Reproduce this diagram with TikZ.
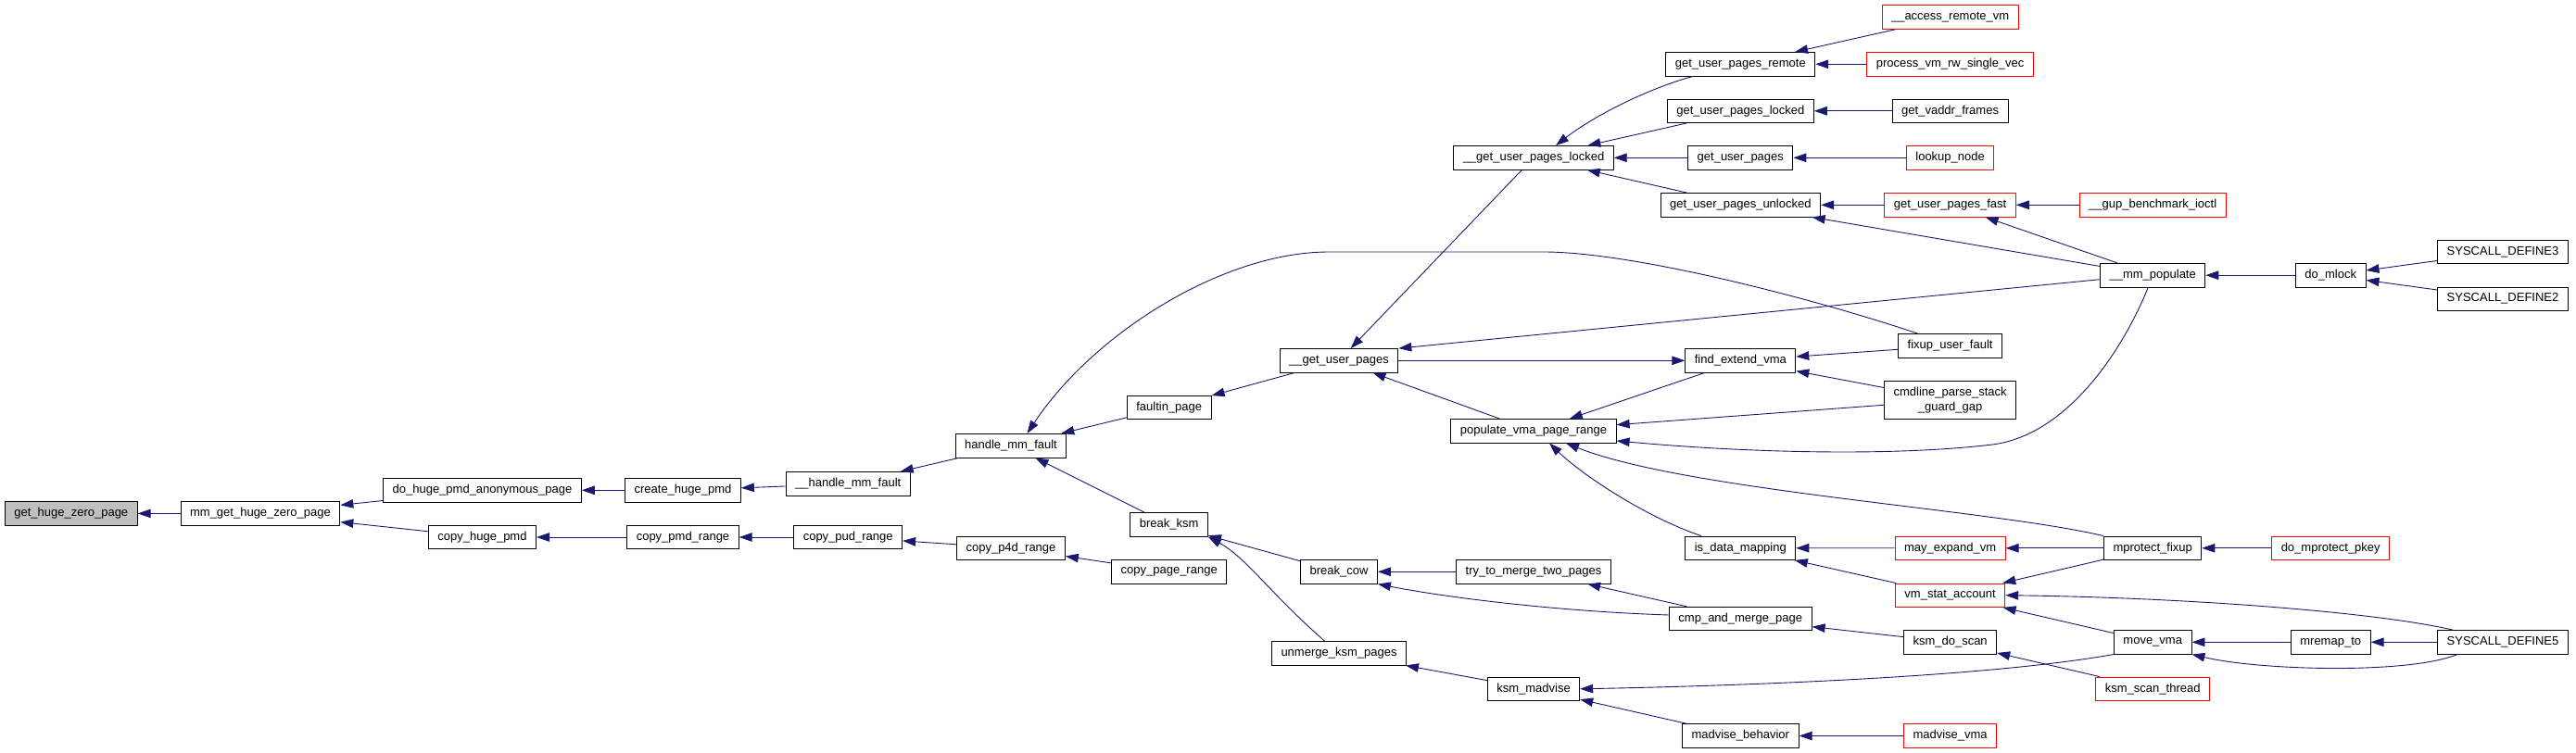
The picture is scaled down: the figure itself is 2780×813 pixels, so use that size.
\documentclass[tikz,border=0pt]{standalone}
\usepackage{fontspec}
\setmainfont{Liberation Sans}
\usepackage{xcolor}
\usetikzlibrary{arrows.meta}
\definecolor{edgeblue}{HTML}{191970}

\begin{document}
\begin{tikzpicture}[
    x=1pt, y=-1pt,
    font=\fontsize{13}{15.7}\selectfont,
    fn/.style={draw=black, line width=0.9pt, fill=white, minimum height=25.5pt, inner xsep=10pt, inner ysep=0pt, align=center},
    root/.style={fn, fill=black!25},
    cut/.style={fn, draw=red},
    edge/.style={{Triangle[length=14pt,width=9.5pt]}-, draw=edgeblue, line width=0.9pt}
  ]
    \useasboundingbox (0,0) rectangle (2780,813);

    \node[root] (hugezero) at (76.8,554.4) {get\_huge\_zero\_page};
    \node[fn] (mmhugezero) at (281,554.4) {mm\_get\_huge\_zero\_page};
    \node[fn] (dohugepmd) at (520.5,529.3) {do\_huge\_pmd\_anonymous\_page};
    \node[fn] (copyhugepmd) at (520.5,580) {copy\_huge\_pmd};
    \node[fn] (createpmd) at (737,529.3) {create\_huge\_pmd};
    \node[fn] (copypmd) at (737,580) {copy\_pmd\_range};
    \node[fn] (hmfault) at (915.2,522.3) {\_\_handle\_mm\_fault};
    \node[fn] (copypud) at (915.2,580) {copy\_pud\_range};
    \node[fn] (handlefault) at (1091,481.2) {handle\_mm\_fault};
    \node[fn] (copyp4d) at (1091,591.7) {copy\_p4d\_range};
    \node[fn] (faultin) at (1261.7,439.7) {faultin\_page};
    \node[fn] (breakksm) at (1261.7,566.5) {break\_ksm};
    \node[fn] (copypage) at (1261.7,617.2) {copy\_page\_range};

    \node[fn] (gupages) at (1445,389.3) {\_\_get\_user\_pages};
    \node[fn] (breakcow) at (1445,617.3) {break\_cow};
    \node[fn] (unmerge) at (1445,705.3) {unmerge\_ksm\_pages};
    \node[fn] (gupl) at (1655,170.3) {\_\_get\_user\_pages\_locked};
    \node[fn] (populate) at (1655,465.3) {populate\_vma\_page\_range};
    \node[fn] (trymerge) at (1655,617.3) {try\_to\_merge\_two\_pages};
    \node[fn] (ksmmadvise) at (1655,743.8) {ksm\_madvise};

    \node[fn] (gupremote) at (1878.3,69.3) {get\_user\_pages\_remote};
    \node[fn] (guplocked) at (1878.3,119.8) {get\_user\_pages\_locked};
    \node[fn] (gup) at (1878.3,170.3) {get\_user\_pages};
    \node[fn] (gupunlocked) at (1878.3,221.3) {get\_user\_pages\_unlocked};
    \node[fn] (findvma) at (1878.3,389.3) {find\_extend\_vma};
    \node[fn] (isdata) at (1878.3,591.7) {is\_data\_mapping};
    \node[fn] (cmpmerge) at (1878.3,668) {cmp\_and\_merge\_page};
    \node[fn] (madvbehav) at (1878.3,794.5) {madvise\_behavior};

    \node[cut] (accessvm) at (2104.6,18.5) {\_\_access\_remote\_vm};
    \node[cut] (processvm) at (2104.6,69.3) {process\_vm\_rw\_single\_vec};
    \node[fn] (vaddr) at (2104.6,119.8) {get\_vaddr\_frames};
    \node[cut] (lookup) at (2104.6,170.3) {lookup\_node};
    \node[cut] (gupfast) at (2104.6,221.3) {get\_user\_pages\_fast};
    \node[fn] (fixup) at (2104.6,373.3) {fixup\_user\_fault};
    \node[fn, minimum height=40.6pt] (cmdline) at (2104.6,432) {cmdline\_parse\_stack\\\_guard\_gap};
    \node[cut] (mayexpand) at (2104.6,591.8) {may\_expand\_vm};
    \node[cut] (vmstat) at (2104.6,642.7) {vm\_stat\_account};
    \node[fn] (ksmscan) at (2104.6,693.3) {ksm\_do\_scan};
    \node[cut] (madvvma) at (2104.6,794.5) {madvise\_vma};

    \node[cut] (gupbench) at (2323.2,221.3) {\_\_gup\_benchmark\_ioctl};
    \node[fn] (mmpopulate) at (2323.2,297.2) {\_\_mm\_populate};
    \node[fn] (mprotect) at (2323.2,591.8) {mprotect\_fixup};
    \node[fn] (movevma) at (2323.2,693.3) {move\_vma};
    \node[cut] (ksmthread) at (2323.2,743.8) {ksm\_scan\_thread};

    \node[fn] (mlock) at (2515.2,297.2) {do\_mlock};
    \node[cut] (mprotectpkey) at (2515.2,591.8) {do\_mprotect\_pkey};
    \node[fn] (mremap) at (2515.2,693.3) {mremap\_to};
    \node[fn] (sys3) at (2701,271.8) {SYSCALL\_DEFINE3};
    \node[fn] (sys2) at (2701,322.7) {SYSCALL\_DEFINE2};
    \node[fn] (sys5) at (2701,693.3) {SYSCALL\_DEFINE5};

    \foreach \a/\b in {hugezero/mmhugezero, mmhugezero/dohugepmd, mmhugezero/copyhugepmd,
        dohugepmd/createpmd, copyhugepmd/copypmd, createpmd/hmfault, copypmd/copypud,
        hmfault/handlefault, copypud/copyp4d, copyp4d/copypage, handlefault/faultin,
        handlefault/breakksm, faultin/gupages, breakksm/breakcow, gupages/gupl,
        gupages/populate, findvma/gupages, gupl/guplocked, gupl/gup, gupl/gupunlocked,
        gupremote/accessvm, gupremote/processvm, guplocked/vaddr, gup/lookup,
        gupunlocked/gupfast, gupunlocked/mmpopulate, gupfast/gupbench, gupfast/mmpopulate,
        mmpopulate/mlock, mlock/sys3, mlock/sys2, findvma/fixup, findvma/cmdline,
        populate/findvma, populate/cmdline, isdata/mayexpand, isdata/vmstat,
        mayexpand/mprotect, vmstat/mprotect, vmstat/movevma, mprotect/mprotectpkey,
        movevma/mremap, mremap/sys5, cmpmerge/ksmscan, ksmscan/ksmthread,
        breakcow/trymerge, trymerge/cmpmerge, unmerge/ksmmadvise, ksmmadvise/madvbehav,
        madvbehav/madvvma} {
      \draw[edge] (\a) -- (\b);
    }

    \draw[edge] ([xshift=17.5pt]handlefault.north) .. controls (1180,360) and (1320,272) .. (1434,272)
      -- (1666,272) .. controls (1760,272) and (1950,320) .. ([xshift=-35pt]fixup.north);
    \draw[edge] ([xshift=24pt]gupl.north) .. controls (1720,125) and (1780,95) .. ([xshift=-51.5pt]gupremote.south);
    \draw[edge] (breakksm.south east) .. controls (1345,602) and (1370,640) .. ([xshift=-15.5pt]unmerge.north);
    \draw[edge] (gupages.north east) -- ([yshift=-4.5pt]mmpopulate.west);
    \draw[edge] ([yshift=-10.7pt]populate.east) .. controls (1900,490) and (2050,492) .. (2150,480)
      .. controls (2230,470) and (2290,380) .. ([xshift=-5pt]mmpopulate.south);
    \draw[edge] ([xshift=35pt]populate.south) .. controls (1820,530) and (2150,550) .. (mprotect.north west);
    \draw[edge] ([xshift=17pt]populate.south) .. controls (1710,515) and (1780,560) .. ([xshift=-42.3pt]isdata.north);
    \draw[edge] (vmstat.east) .. controls (2350,645) and (2560,660) .. ([xshift=-54pt]sys5.north);
    \draw[edge] (movevma.south east) .. controls (2440,724) and (2600,728) .. ([xshift=-49pt]sys5.south);
    \draw[edge] (ksmmadvise.east) .. controls (1900,740) and (2150,730) .. (movevma.south west);
    \draw[edge] (breakcow.south east) .. controls (1560,645) and (1680,660) .. ([yshift=4pt]cmpmerge.west);
  \end{tikzpicture}
\end{document}
